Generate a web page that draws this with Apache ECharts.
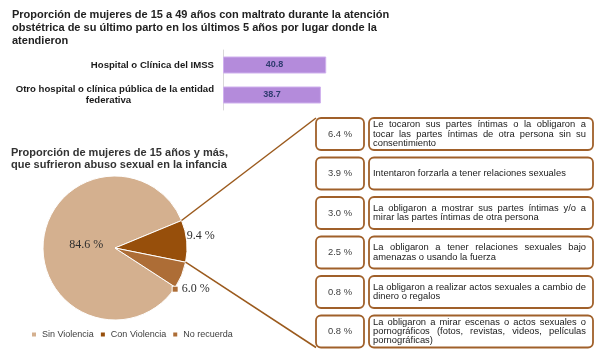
<!DOCTYPE html>
<html>
<head>
<meta charset="utf-8">
<script src="https://cdn.jsdelivr.net/npm/echarts@6/dist/echarts.min.js"></script>
<style>html,body{margin:0;padding:0;background:#fff;}#main{width:601px;height:361px;}</style>
</head>
<body>
<div id="main"></div>
<script>
const mainTitle = 'Proporción de mujeres de 15 a 49 años con maltrato durante la atención\nobstétrica de su último parto en los últimos 5 años por lugar donde la\natendieron';
const barCategories = ['Hospital o Clínica del IMSS', 'Otro hospital o clínica pública de la entidad\nfederativa'];
const barValues = [40.8, 38.7];
const pieTitle = 'Proporción de mujeres de 15 años y más,\nque sufrieron abuso sexual en la infancia';
const pieNames = ['Sin Violencia', 'Con Violencia', 'No recuerda'];
const pieValues = [84.6, 9.4, 6.0];
const detailValues = [6.4, 3.9, 3.0, 2.5, 0.8, 0.8];
const detailLabels = [
  'Le tocaron sus partes íntimas o la obligaron a\ntocar las partes íntimas de otra persona sin su\nconsentimiento',
  'Intentaron forzarla a tener relaciones sexuales',
  'La obligaron a mostrar sus partes íntimas y/o a\nmirar las partes íntimas de otra persona',
  'La obligaron a tener relaciones sexuales bajo\namenazas o usando la fuerza',
  'La obligaron a realizar actos sexuales a cambio de\ndinero o regalos',
  'La obligaron a mirar escenas o actos sexuales o\npornográficos (fotos, revistas, videos, películas\npornográficas)'
];

const pieColors = ['#d4b08f', '#974f0b', '#ad6d36'];
const PIE_CX = 115, PIE_CY = 248, PIE_R = 72, PIE_START = 327;
const boxColor = '#a0602a';
const textFont = '9.4px "Liberation Sans", Arial, sans-serif';

const chart = echarts.init(document.getElementById('main'), null, {renderer: 'canvas'});

const measureCtx = document.createElement('canvas').getContext('2d');
measureCtx.font = textFont;
function tw(s) { return measureCtx.measureText(s).width; }

const total = pieValues.reduce((a, b) => a + b, 0);
const angStart1 = PIE_START - 360 * pieValues[0] / total;
const angEnd1 = angStart1 - 360 * pieValues[1] / total;
function piePoint(deg) {
  const r = deg * Math.PI / 180;
  return [PIE_CX + PIE_R * Math.cos(r), PIE_CY - PIE_R * Math.sin(r)];
}

function renderBox(params, api) {
  const idx = params.dataIndex;
  const cs = params.coordSys;
  const cy = api.coord([0, api.value(1)])[1];
  const x0 = cs.x, w = cs.width;
  const h = 32, lw = 48, gap = 5;
  const children = [];
  children.push({type: 'rect', shape: {x: x0, y: cy - h / 2, width: lw, height: h, r: 5},
    style: {fill: '#fff', stroke: boxColor, lineWidth: 1.8}});
  children.push({type: 'text', style: {text: detailValues[idx].toFixed(1) + ' %', x: x0 + lw / 2, y: cy,
    align: 'center', verticalAlign: 'middle', font: textFont, fill: '#404040'}});
  children.push({type: 'rect', shape: {x: x0 + lw + gap, y: cy - h / 2, width: w - lw - gap, height: h, r: 5},
    style: {fill: '#fff', stroke: boxColor, lineWidth: 1.8}});
  const lines = detailLabels[idx].split('\n');
  const lineH = 9.4;
  const tx = x0 + lw + gap + 4;
  const avail = 213;
  lines.forEach((ln, li) => {
    const y = cy + (li - (lines.length - 1) / 2) * lineH;
    const words = ln.split(' ');
    if (li < lines.length - 1 && words.length > 1) {
      const ws = words.map(tw);
      const sum = ws.reduce((a, b) => a + b, 0);
      const g = (avail - sum) / (words.length - 1);
      let x = tx;
      words.forEach((wd, wi) => {
        children.push({type: 'text', style: {text: wd, x: x, y: y, align: 'left', verticalAlign: 'middle', font: textFont, fill: '#1a1a1a'}});
        x += ws[wi] + g;
      });
    } else {
      children.push({type: 'text', style: {text: ln, x: tx, y: y, align: 'left', verticalAlign: 'middle', font: textFont, fill: '#1a1a1a'}});
    }
  });
  if (idx === 0) {
    const p = piePoint(angStart1);
    children.push({type: 'line', shape: {x1: p[0], y1: p[1], x2: x0, y2: cy - h / 2}, style: {stroke: '#9b5a1d', lineWidth: 1.5}});
  }
  if (idx === detailValues.length - 1) {
    const p = piePoint(angEnd1);
    children.push({type: 'line', shape: {x1: p[0], y1: p[1], x2: x0, y2: cy + h / 2}, style: {stroke: '#9b5a1d', lineWidth: 1.5}});
  }
  return {type: 'group', children: children};
}

const option = {
  backgroundColor: '#fff',
  animation: false,
  title: [
    {text: mainTitle, left: 12, top: 8.5, padding: 0,
      textStyle: {fontFamily: '"Liberation Sans", Arial, sans-serif', fontSize: 11, fontWeight: 'bold', color: '#222', lineHeight: 13}},
    {text: pieTitle, left: 11, top: 146.5, padding: 0,
      textStyle: {fontFamily: '"Liberation Sans", Arial, sans-serif', fontSize: 11, fontWeight: 'bold', color: '#333', lineHeight: 12}}
  ],
  legend: {
    data: pieNames, left: 30, top: 330, padding: 0, itemWidth: 6, itemHeight: 6, itemGap: 5, icon: 'rect',
    selectedMode: false,
    textStyle: {fontFamily: '"Liberation Sans", Arial, sans-serif', fontSize: 9, color: '#404040'}
  },
  grid: [
    {left: 221, top: 50, width: 255, height: 60},
    {left: 316, right: 8, top: 114.25, height: 237}
  ],
  xAxis: [
    {gridIndex: 0, type: 'value', min: 0, max: 100, show: false},
    {gridIndex: 1, type: 'value', min: 0, max: 1, show: false}
  ],
  yAxis: [
    {gridIndex: 0, type: 'category', data: barCategories, inverse: true,
      axisLine: {show: true, lineStyle: {color: '#d9d9d9'}}, axisTick: {show: false}, splitLine: {show: false},
      axisLabel: {margin: 9, fontFamily: '"Liberation Sans", Arial, sans-serif', fontSize: 9.6, fontWeight: 'bold', color: '#1a1a1a', lineHeight: 11,
        formatter: function (v) {
          if (v.indexOf('\n') < 0) return v;
          const parts = v.split('\n');
          return '{b|' + parts[0] + '}\n{f|' + parts[1] + '}';
        },
        rich: {
          b: {fontFamily: '"Liberation Sans", Arial, sans-serif', fontSize: 9.6, fontWeight: 'bold', color: '#1a1a1a', lineHeight: 11},
          f: {fontFamily: '"Liberation Sans", Arial, sans-serif', fontSize: 9.6, fontWeight: 'bold', color: '#1a1a1a', lineHeight: 11, width: 211, align: 'center'}
        }
      }},
    {gridIndex: 1, type: 'category', data: detailLabels, inverse: true, show: false}
  ],
  series: [
    {type: 'bar', xAxisIndex: 0, yAxisIndex: 0, data: barValues, barWidth: 17,
      itemStyle: {color: '#b48bdb', borderColor: '#cfb0ee', borderWidth: 1},
      label: {show: true, position: 'inside', fontFamily: '"Liberation Sans", Arial, sans-serif', fontSize: 9, fontWeight: 'bold', color: '#2f3b6e',
        formatter: p => p.value.toFixed(1)}},
    {type: 'pie', center: [PIE_CX, PIE_CY], radius: PIE_R, startAngle: PIE_START, clockwise: true,
      avoidLabelOverlap: false,
      data: pieNames.map((n, i) => ({name: n, value: pieValues[i], itemStyle: {color: pieColors[i]},
        label: {position: i === 0 ? 'inside' : 'outside'}})),
      itemStyle: {borderColor: '#fff', borderWidth: 1},
      label: {show: true, fontFamily: '"Liberation Serif", "Times New Roman", serif', fontSize: 12, color: '#2e2e2e',
        distanceToLabelLine: 0,
        formatter: p => p.dataIndex === 2 ? '{m|}{t|' + p.value.toFixed(1) + ' %}' : p.value.toFixed(1) + ' %',
        rich: {
          m: {width: 5, height: 5, backgroundColor: pieColors[2], borderColor: '#fff', borderWidth: 1},
          t: {fontFamily: '"Liberation Serif", "Times New Roman", serif', fontSize: 12, color: '#2e2e2e', padding: [0, 0, 0, 4]}
        }},
      labelLine: {show: false, length: 0, length2: 0},
      labelLayout: function (p) {
        if (p.dataIndex === 0) return {dx: 10};
        if (p.dataIndex === 1) return {dy: -5};
        if (p.dataIndex === 2) return {dx: -9, dy: 14};
      },
      emphasis: {disabled: true}},
    {type: 'custom', xAxisIndex: 1, yAxisIndex: 1, renderItem: renderBox,
      data: detailValues.map((v, i) => [0, i]), z: 5, silent: true}
  ]
};
chart.setOption(option);
</script>
</body>
</html>
